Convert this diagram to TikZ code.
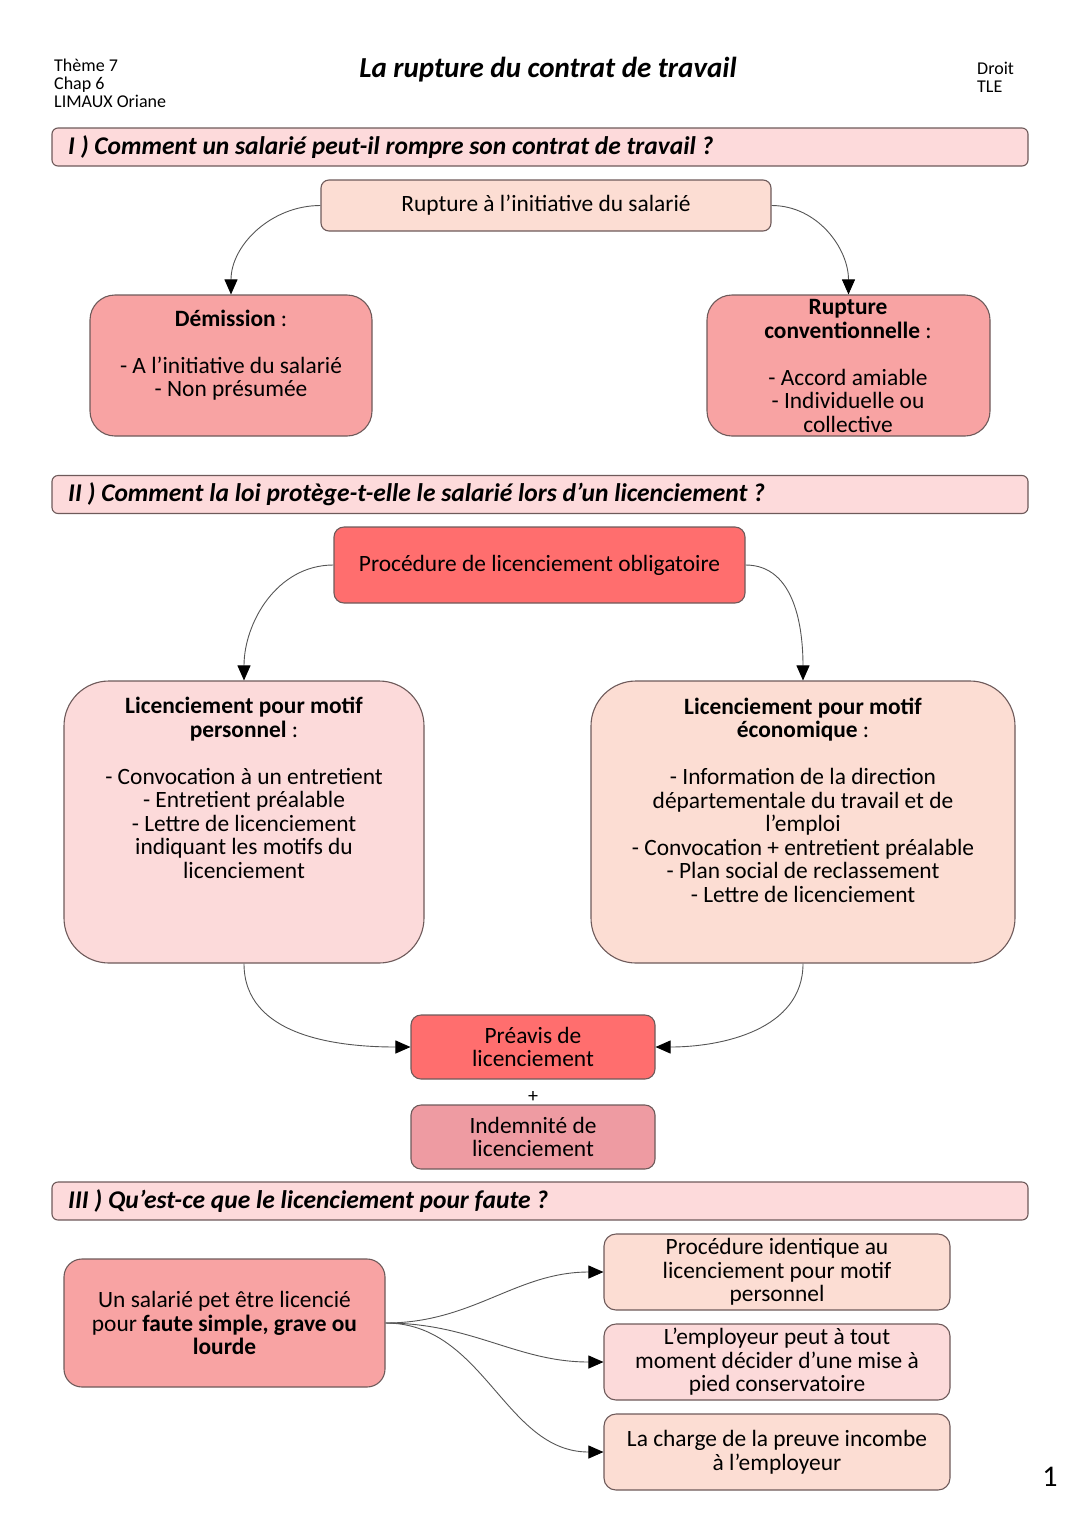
\documentclass[tikz,border=0pt]{standalone}
\usepackage{fontspec}
\setmainfont{Carlito}
\usetikzlibrary{arrows.meta}
\definecolor{bordc}{HTML}{6E5A5A}
\definecolor{linec}{HTML}{555555}
\definecolor{secfill}{HTML}{FDDADB}
\definecolor{peach}{HTML}{FCDDD3}
\definecolor{pinklight}{HTML}{FCDADA}
\definecolor{pinkmid}{HTML}{F8A3A3}
\definecolor{redbox}{HTML}{FF6E6E}
\definecolor{rosebox}{HTML}{EE9BA2}
\begin{document}
\begin{tikzpicture}[x=1pt,y=-1pt,
  box/.style={draw=bordc, line width=1.1pt, inner sep=0pt, align=center, font=\fontsize{23.4}{23.5}\selectfont},
  txt/.style={inner sep=0pt, align=center, font=\fontsize{23.4}{23.5}\selectfont},
  sec/.style={draw=bordc, line width=1.1pt, fill=secfill, rounded corners=6pt, minimum width=976pt, minimum height=38pt, inner sep=0pt},
  sectxt/.style={anchor=west, inner sep=0pt, font=\fontsize{25.5}{28}\selectfont\bfseries\itshape},
  conn/.style={draw=linec, line width=0.9pt, -{Triangle[length=15pt,width=13pt,color=black]}},
]
\useasboundingbox (0,0) rectangle (1080,1527);

% header
\node[anchor=north west, align=left, inner sep=0pt, font=\fontsize{18}{18}\selectfont] (hdr) at (54,59) {Thème 7\\Chap 6\\LIMAUX Oriane};
\node[inner sep=0pt, font=\fontsize{29}{32}\selectfont\bfseries\itshape] (title) at (548,70) {La rupture du contrat de travail};
\node[anchor=north west, align=left, inner sep=0pt, font=\fontsize{18}{18}\selectfont] (hdr2) at (977,62) {Droit\\TLE};

% Section I
\node[sec] (s1) at (540,147) {};
\node[sectxt] (s1t) at (68,147) {I ) Comment un salarié peut-il rompre son contrat de travail ?};

\node[box, fill=peach, rounded corners=8pt, minimum width=450pt, minimum height=51pt] (rini) at (546,205.5) {Rupture à l’initiative du salarié};

\node[box, fill=pinkmid, rounded corners=25pt, minimum width=282pt, minimum height=141pt] (dem) at (231,365.5) {};
\node[txt] (demt) at (231,355) {\textbf{Démission} :\\[23.5pt]- A l’initiative du salarié\\- Non présumée};

\node[box, fill=pinkmid, rounded corners=25pt, minimum width=283pt, minimum height=141pt] (rc) at (848.5,365.5) {};
\node[txt] (rct) at (848,366) {\textbf{Rupture}\\\textbf{conventionnelle} :\\[23.5pt]- Accord amiable\\- Individuelle ou\\collective};

\draw[conn] (rini.west) to[out=180,in=90] (dem.north);
\draw[conn] (rini.east) to[out=0,in=90] (rc.north);

% Section II
\node[sec] (s2) at (540,494.5) {};
\node[sectxt] (s2t) at (68,494.5) {II ) Comment la loi protège-t-elle le salarié lors d’un licenciement ?};

\node[box, fill=redbox, rounded corners=10pt, minimum width=411pt, minimum height=76pt] (proc) at (539.5,565) {Procédure de licenciement obligatoire};

\node[box, fill=pinklight, rounded corners=45pt, minimum width=360pt, minimum height=282pt] (lp) at (244,822) {};
\node[txt] (lpt) at (244,788) {\textbf{Licenciement pour motif}\\\textbf{personnel} :\\[23.5pt]- Convocation à un entretient\\- Entretient préalable\\- Lettre de licenciement\\indiquant les motifs du\\licenciement};

\node[box, fill=peach, rounded corners=45pt, minimum width=424pt, minimum height=282pt] (le) at (803,822) {};
\node[txt] (let) at (803,800) {\textbf{Licenciement pour motif}\\\textbf{économique} :\\[23.5pt]- Information de la direction\\départementale du travail et de\\l’emploi\\- Convocation + entretient préalable\\- Plan social de reclassement\\- Lettre de licenciement};

\draw[conn] (proc.west) to[out=180,in=90] (lp.north);
\draw[conn] (proc.east) to[out=0,in=90] (le.north);

\node[box, fill=redbox, rounded corners=10pt, minimum width=244pt, minimum height=64pt] (prea) at (533,1047) {Préavis de\\licenciement};
\node[txt, font=\fontsize{20}{20}\selectfont] (plus) at (533,1097) {+};
\node[box, fill=rosebox, rounded corners=10pt, minimum width=244pt, minimum height=64pt] (ind) at (533,1137) {Indemnité de\\licenciement};

\draw[conn] (lp.south) to[out=-90,in=180] (prea.west);
\draw[conn] (le.south) to[out=-90,in=0] (prea.east);

% Section III
\node[sec] (s3) at (540,1201) {};
\node[sectxt] (s3t) at (68,1201) {III ) Qu’est-ce que le licenciement pour faute ?};

\node[box, fill=pinkmid, rounded corners=18pt, minimum width=321pt, minimum height=128pt] (sal) at (224.5,1323) {Un salarié pet être licencié\\pour \textbf{faute simple, grave ou}\\\textbf{lourde}};

\node[box, fill=peach, rounded corners=12pt, minimum width=346pt, minimum height=76pt] (r1) at (777,1272) {Procédure identique au\\licenciement pour motif\\personnel};
\node[box, fill=pinklight, rounded corners=12pt, minimum width=346pt, minimum height=76pt] (r2) at (777,1362) {L’employeur peut à tout\\moment décider d’une mise à\\pied conservatoire};
\node[box, fill=peach, rounded corners=12pt, minimum width=346pt, minimum height=76pt] (r3) at (777,1452) {La charge de la preuve incombe\\à l’employeur};

\draw[conn] (sal.east) to[out=0,in=180] (r1.west);
\draw[conn] (sal.east) to[out=0,in=180] (r2.west);
\draw[conn] (sal.east) to[out=0,in=180] (r3.west);

\node[inner sep=0pt, font=\fontsize{30}{34}\selectfont] (pg) at (1050,1477) {1};
\end{tikzpicture}
\end{document}
